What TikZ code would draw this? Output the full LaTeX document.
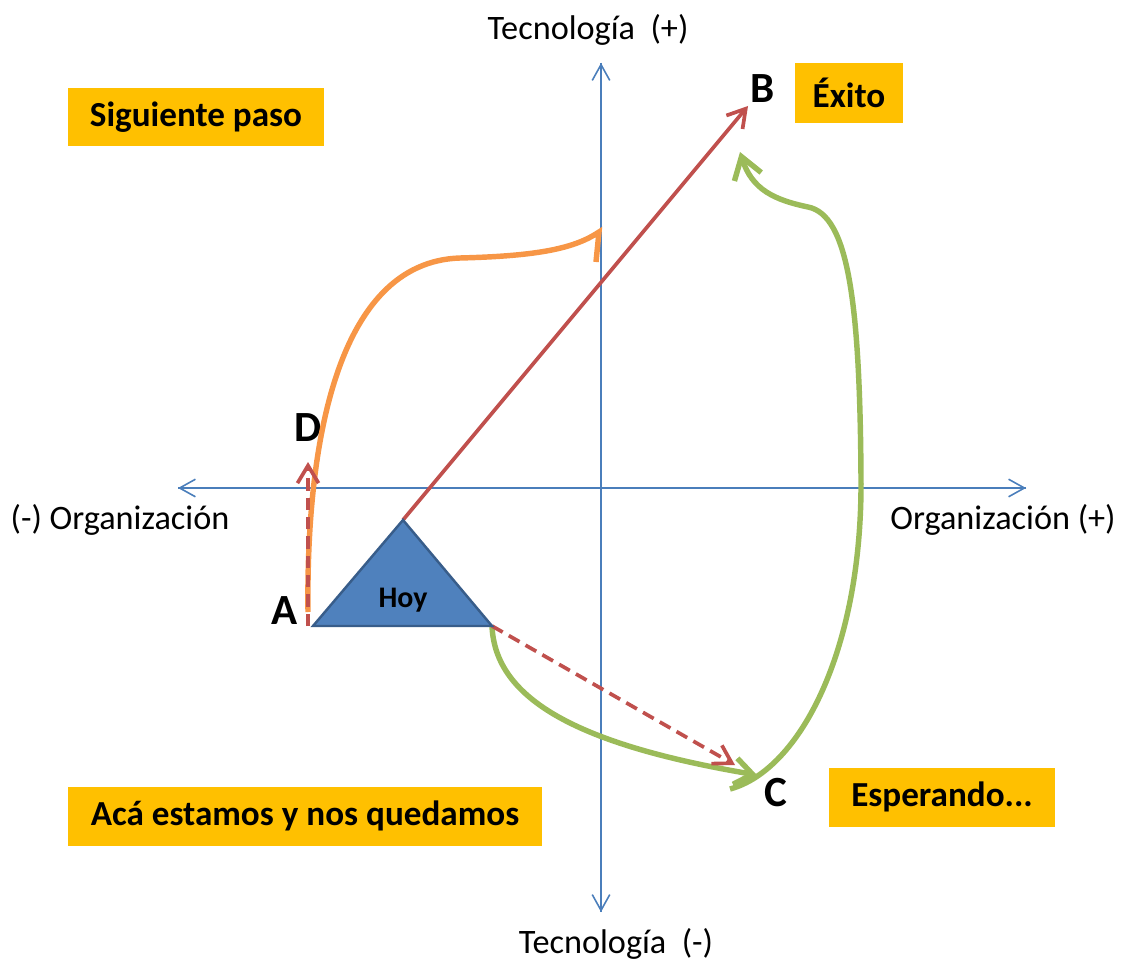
\documentclass[tikz,border=0pt]{standalone}
\usepackage{fontspec}
\setmainfont{Carlito}
\usetikzlibrary{arrows.meta,positioning}
\definecolor{axisBlue}{RGB}{74,126,187}
\definecolor{arrowRed}{RGB}{192,80,77}
\definecolor{curveOrange}{RGB}{247,150,70}
\definecolor{curveGreen}{RGB}{155,187,89}
\definecolor{triBlue}{RGB}{79,129,189}
\definecolor{triEdge}{RGB}{56,93,138}
\definecolor{boxGold}{RGB}{255,192,0}

\begin{document}
\begin{tikzpicture}[
    x=0.02cm, y=-0.02cm,
    axisline/.style={draw=axisBlue, line width=0.9pt,
      -{Straight Barb[length=9pt,width=10pt]}},
    axislabel/.style={font=\fontsize{19.5}{23}\selectfont},
    redline/.style={draw=arrowRed, line width=2.1pt,
      -{Straight Barb[length=10pt,width=12pt]}},
    reddash/.style={redline, dash pattern=on 7pt off 4pt},
    thickcurve/.style={line width=3.1pt},
    statebox/.style={fill=boxGold, font=\bfseries\fontsize{20}{23}\selectfont},
    pointlabel/.style={font=\bfseries\fontsize{24.5}{28}\selectfont}
  ]
  \useasboundingbox (0,0) rectangle (1121,962);
  % Axes
  \coordinate (yneg) at (601,912);
  \coordinate (ypos) at (601,63);
  \coordinate (xneg) at (178,488);
  \coordinate (xpos) at (1026,488);
  \draw[axisline] (yneg) -- (ypos);
  \draw[axisline] (xpos) -- (xneg);
  \draw[axisline] (xneg) -- (xpos);
  \draw[axisline] (ypos) -- (yneg);
  \node[axislabel] (tecpos) at (588,30) {Tecnología~~(+)};
  \node[axislabel] (tecneg) at (616,944) {Tecnología~~(-)};
  \node[axislabel] (orgneg) at (120,520) {(-) Organización};
  \node[axislabel] (orgpos) at (1003,520) {Organización (+)};
  % Quadrant boxes
  \node[statebox, minimum width=5.14cm, minimum height=1.18cm] (next) at (196,117) {Siguiente paso};
  \node[statebox, minimum width=2.16cm, minimum height=1.2cm] (exito) at (849,93) {Éxito};
  \node[statebox, minimum width=4.52cm, minimum height=1.18cm] (wait) at (942,797) {Esperando...};
  \node[statebox, minimum width=9.48cm, minimum height=1.18cm] (stay) at (305,816) {Acá estamos y nos quedamos};
  % Points
  \node[pointlabel] (A) at (285,611) {A};
  \node[pointlabel] (B) at (763,89) {B};
  \node[pointlabel] (C) at (776,793) {C};
  \node[pointlabel] (D) at (308,428) {D};
  \coordinate (apex) at (403,520);
  \coordinate (baseL) at (313,626);
  \coordinate (baseR) at (492,626);
  \coordinate (aStart) at (308,626);
  \coordinate (dTip) at (308,462);
  \coordinate (bTip) at (748,106);
  \coordinate (cTip) at (735,765);
  % Orange path A -> next step
  \coordinate (oStart) at (308,612);
  \coordinate (oEnd) at (599,232);
  \draw[curveOrange, thickcurve] (oStart) .. controls (306,450) and (335,262) .. (460,258)
    .. controls (540,256) and (575,248) .. (oEnd) -- ++(-3,30);
  % Green path via C to B
  \coordinate (gTip) at (757,775);
  \coordinate (gStart) at (730,789);
  \coordinate (gEnd) at (740,152);
  \draw[curveGreen, thickcurve, -{Straight Barb[length=10pt,width=15pt]}]
    (baseR) .. controls (495,700) and (580,745) .. (gTip);
  \draw[curveGreen, thickcurve, -{Straight Barb[length=12pt,width=16pt]}]
    (gStart) .. controls (800,770) and (862,650) .. (861,480)
    .. controls (860,300) and (848,215) .. (808,207)
    .. controls (775,200) and (752,190) .. (gEnd);
  % Red arrows
  \draw[reddash] (aStart) -- (dTip);
  \draw[reddash] (baseR) -- (cTip);
  \draw[redline] (apex) -- (bTip);
  % Today
  \draw[fill=triBlue, draw=triEdge, line width=1.4pt] (apex) -- (baseL) -- (baseR) -- cycle;
  \node[font=\bfseries\fontsize{17}{20}\selectfont] (hoy) at (403,600) {Hoy};
\end{tikzpicture}
\end{document}
